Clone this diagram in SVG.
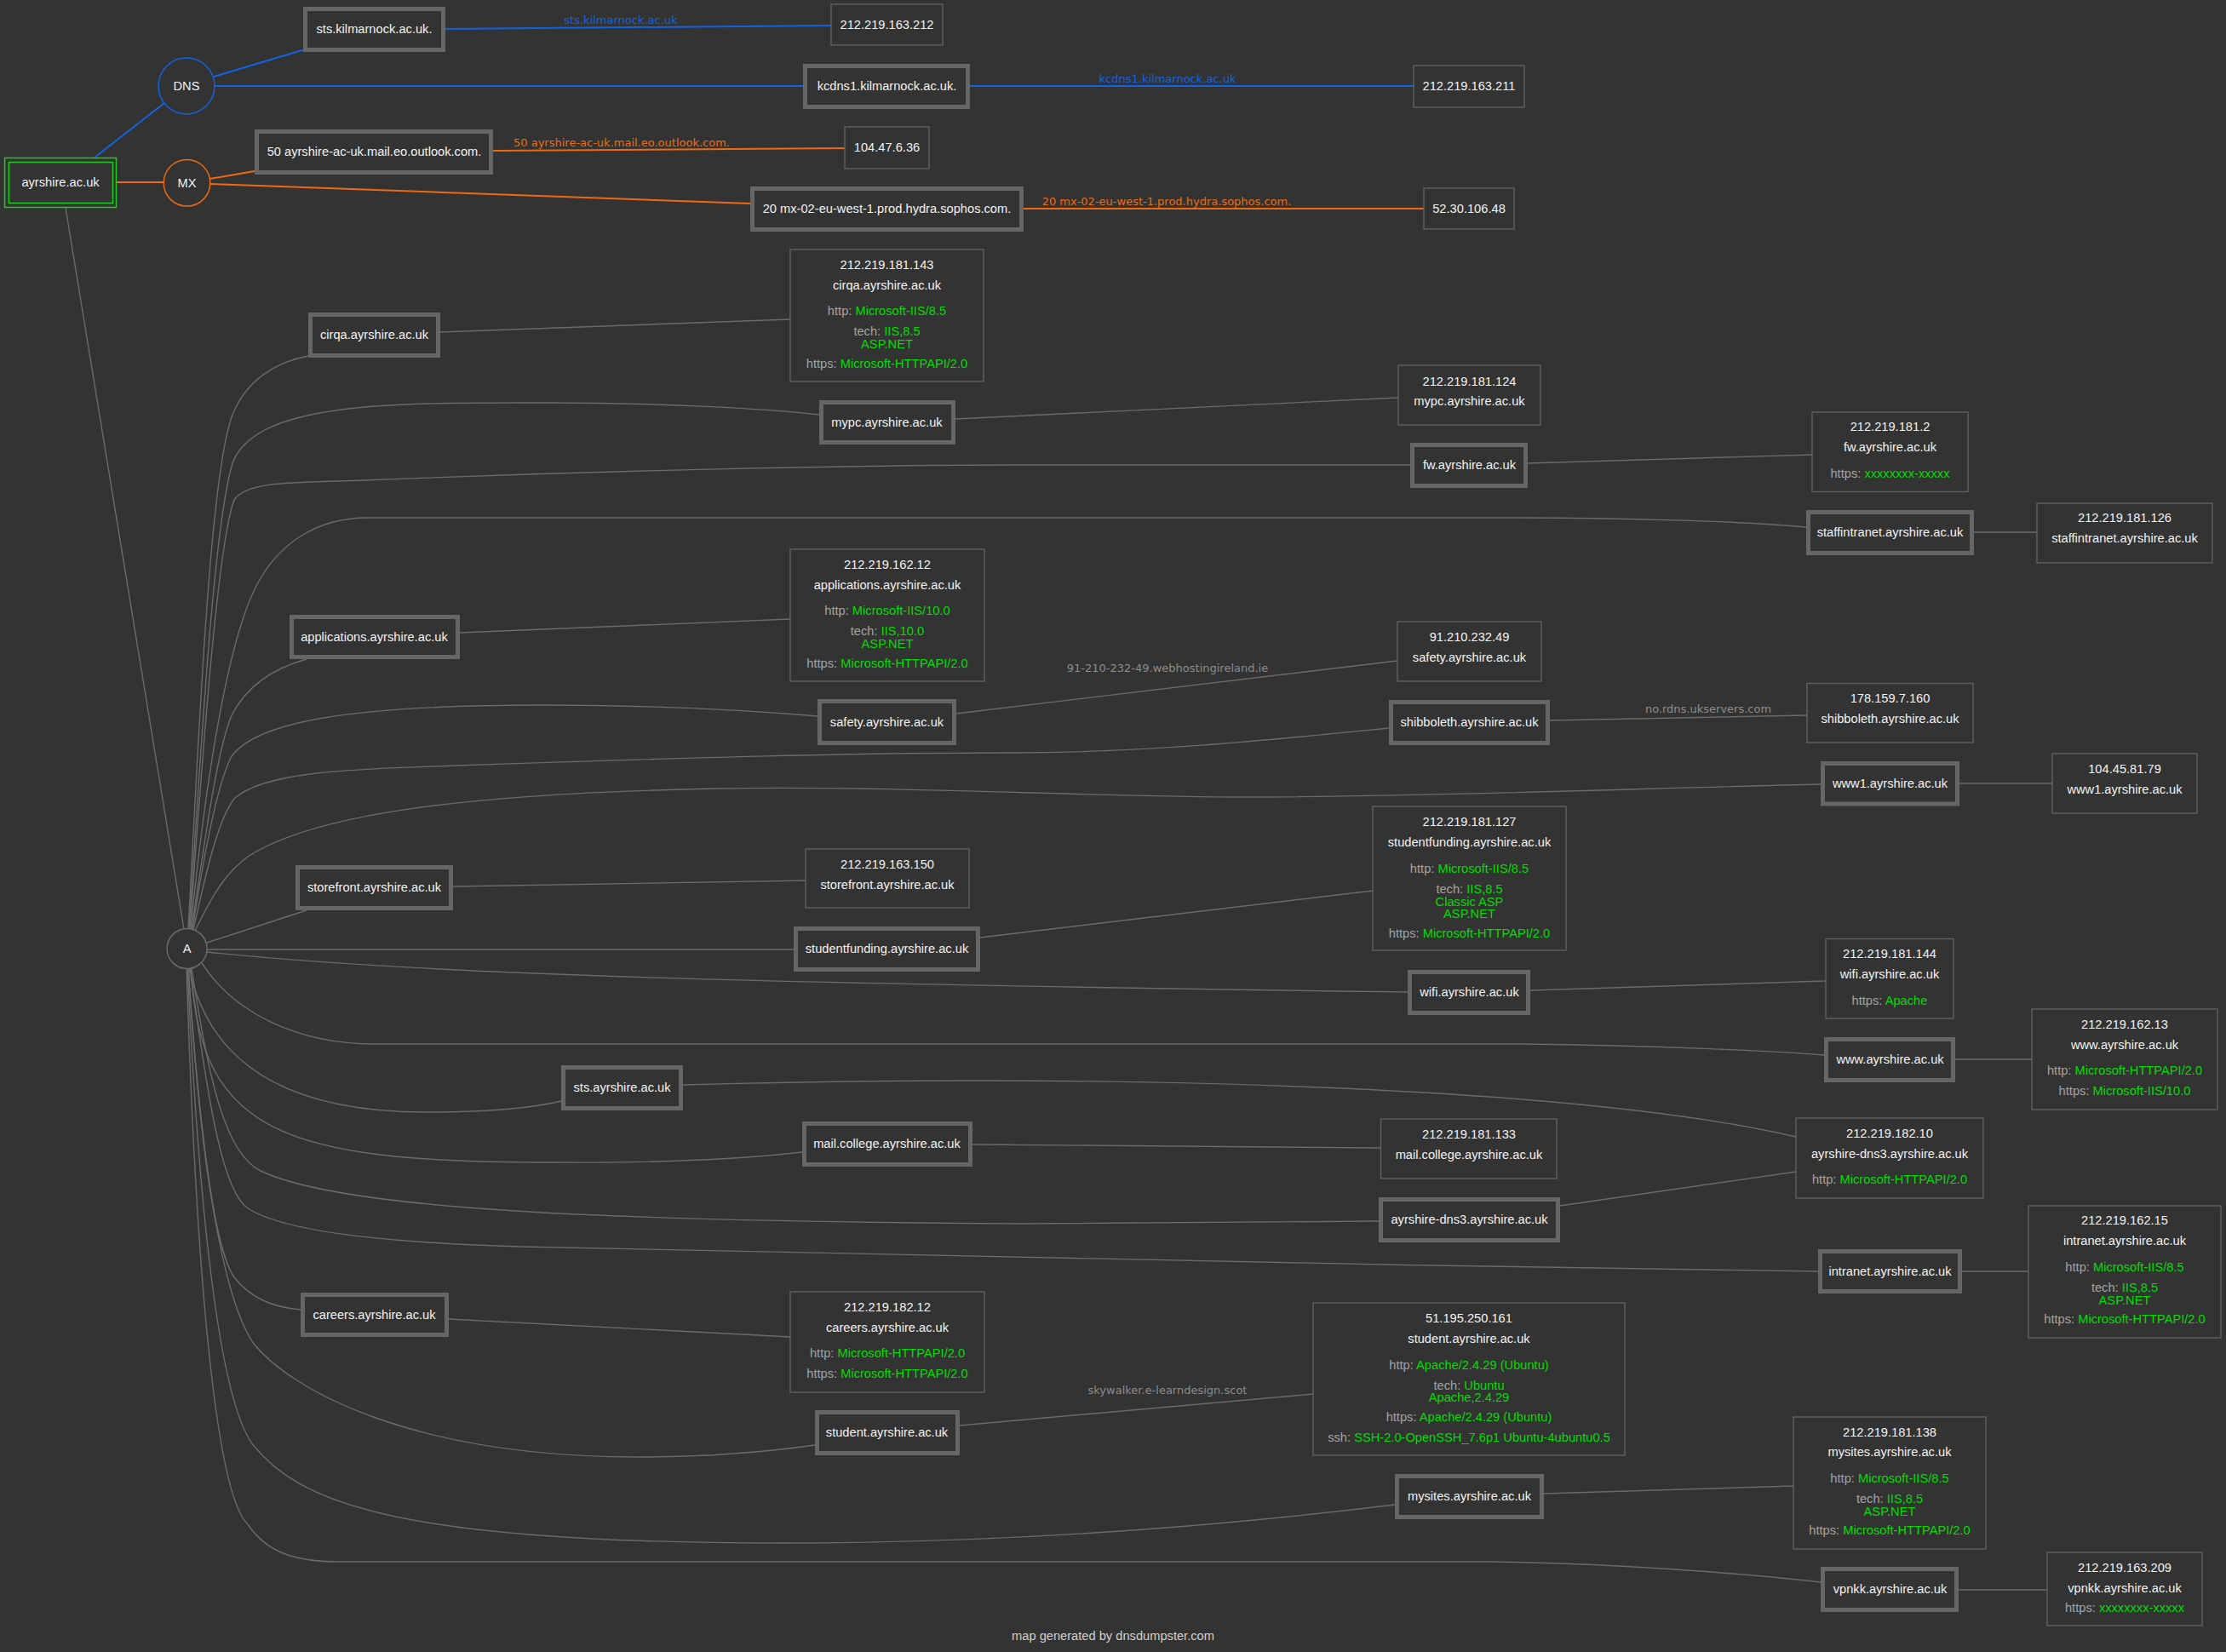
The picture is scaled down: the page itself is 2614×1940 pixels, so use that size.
<svg xmlns="http://www.w3.org/2000/svg" width="2614" height="1940" viewBox="0 0 2614 1940">
<style>
.n{fill:#333;stroke:#666;stroke-width:5}
.i{fill:#333;stroke:#5e5e5e;stroke-width:1.5}
.t{font-family:"Liberation Sans",Arial,sans-serif;font-size:14.67px;fill:#f2f2f2;text-anchor:middle}
.k{fill:#a3a3a3}
.g{fill:#00dd00}
.e{fill:none;stroke:#6b6b6b;stroke-width:1.4}
.eb{fill:none;stroke:#1462e0;stroke-width:2}
.eo{fill:none;stroke:#ee6a10;stroke-width:2}
.l{font-family:"DejaVu Sans",Verdana,sans-serif;font-size:13px;text-anchor:middle}
.lb{fill:#1462e0}
.lo{fill:#ee6a10}
.lg{fill:#8c8c8c}
</style>
<rect x="0" y="0" width="2614" height="1940" fill="#333333"/>
<g id="connectors">
<path class="eb" d="M111,185 L193,121"/>
<path class="eo" d="M137,214 L192,214"/>
<path class="e" d="M77,244 L216,1091"/>
<path class="eb" d="M251,90 L358,58"/>
<path class="eb" d="M252,101 L943,101"/>
<path class="eo" d="M246,210 L299,201"/>
<path class="eo" d="M246,216 L881,239"/>
<path class="eb" d="M523,34 L976,30"/>
<text class="l lb" x="729" y="28">sts.kilmarnock.ac.uk</text>
<path class="eb" d="M1139,101 L1660,101"/>
<text class="l lb" x="1371" y="97">kcdns1.kilmarnock.ac.uk</text>
<path class="eo" d="M579,177 L992,174"/>
<text class="l lo" x="730" y="172">50 ayrshire-ac-uk.mail.eo.outlook.com.</text>
<path class="eo" d="M1202,245 L1672,245"/>
<text class="l lo" x="1370" y="241">20 mx-02-eu-west-1.prod.hydra.sophos.com.</text>

<path class="e" d="M221,1090 C232,900 245,560 273,487 C290,445 325,425 362,418"/>
<path class="e" d="M222,1090 C235,900 250,620 273,544 C300,470 470,473 643,473 C780,473 900,480 962,487"/>
<path class="e" d="M223,1090 C237,900 255,640 275,587 C290,565 340,567 428,564 C700,553 1000,546 1200,546 L1656,546"/>
<path class="e" d="M224,1090 C240,930 265,760 300,690 C325,640 370,608 432,608 L1766,608 C1900,608 2050,612 2121,619"/>
<path class="e" d="M225,1091 C240,990 255,880 272,840 C290,805 320,785 360,774"/>
<path class="e" d="M226,1091 C240,1000 255,920 272,888 C300,850 400,828 635,828 C790,828 900,836 960,841"/>
<path class="e" d="M227,1092 C245,1010 258,960 275,938 C310,905 420,903 536,899 C800,890 1000,884 1187,884 C1350,884 1500,868 1631,855"/>
<path class="e" d="M229,1093 C250,1050 265,1025 291,1006 C370,955 550,932 842,926 C1050,922 1300,937 1477,936 C1700,935 1950,925 2138,921"/>
<path class="e" d="M243,1107 L360,1069"/>
<path class="e" d="M243,1115 L932,1115"/>
<path class="e" d="M243,1118 C500,1145 900,1155 1653,1165"/>
<path class="e" d="M237,1131 C275,1190 350,1226 440,1226 L1785,1226 C1950,1228 2080,1234 2142,1239"/>
<path class="e" d="M222,1137 C240,1220 300,1306 500,1306 C580,1306 630,1300 659,1293"/>
<path class="e" d="M224,1137 C235,1330 330,1365 650,1365 C780,1366 880,1360 942,1353"/>
<path class="e" d="M225,1137 C245,1270 265,1355 306,1375 C400,1420 700,1434 1200,1437 L1619,1434"/>
<path class="e" d="M223,1137 C245,1300 262,1400 291,1419 C340,1450 480,1460 612,1464 C900,1474 1600,1485 2135,1493"/>
<path class="e" d="M221,1137 C232,1300 248,1460 275,1500 C295,1525 320,1535 353,1538"/>
<path class="e" d="M221,1137 C235,1350 258,1520 298,1578 C340,1630 480,1711 750,1711 C830,1711 900,1705 957,1697"/>
<path class="e" d="M220,1137 C235,1450 260,1650 298,1698 C350,1760 450,1812 918,1812 C1200,1812 1450,1790 1638,1767"/>
<path class="e" d="M219,1137 C232,1550 258,1760 291,1790 C312,1822 345,1834 398,1834 L1748,1834 C1900,1836 2050,1848 2138,1858"/>

<path class="e" d="M517,390 L928,375"/>
<path class="e" d="M1122,492 L1642,467"/>
<path class="e" d="M1794,544 L2128,534"/>
<path class="e" d="M2318,625 L2392,625"/>
<path class="e" d="M540,743 L928,727"/>
<path class="e" d="M1123,838 L1641,776"/>
<text class="l lg" x="1371" y="789">91-210-232-49.webhostingireland.ie</text>
<path class="e" d="M1820,846 L2122,840"/>
<text class="l lg" x="2006" y="837">no.rdns.ukservers.com</text>
<path class="e" d="M2301,920 L2410,920"/>
<path class="e" d="M532,1041 L946,1034"/>
<path class="e" d="M1151,1101 L1612,1046"/>
<path class="e" d="M1797,1163 L2144,1152"/>
<path class="e" d="M2296,1244 L2386,1244"/>
<path class="e" d="M802,1274 C1300,1260 1850,1275 2109,1335"/>
<path class="e" d="M1142,1344 L1621,1348"/>
<path class="e" d="M1832,1416 L2109,1376"/>
<path class="e" d="M2304,1493 L2382,1493"/>
<path class="e" d="M527,1549 L928,1570"/>
<path class="e" d="M1127,1674 L1542,1637"/>
<text class="l lg" x="1371" y="1637">skywalker.e-learndesign.scot</text>
<path class="e" d="M1813,1754 L2106,1745"/>
<path class="e" d="M2300,1867 L2404,1867"/>
</g>

<g id="n-ayrshire">
<rect x="5.5" y="185.5" width="131" height="58" fill="#333" stroke="#1ccc1c" stroke-width="1.5"/>
<rect x="10.5" y="190.5" width="122" height="48" fill="none" stroke="#1ccc1c" stroke-width="1.5"/>
<text class="t" x="71" y="219">ayrshire.ac.uk</text>
</g>
<g id="n-dns">
<circle cx="219" cy="101" r="33" fill="#333" stroke="#1462e0" stroke-width="1.5"/>
<text class="t" x="219" y="106">DNS</text>
</g>
<g id="n-mx">
<circle cx="219.5" cy="214.8" r="27.3" fill="#333" stroke="#ee6a10" stroke-width="1.5"/>
<text class="t" x="219.5" y="220">MX</text>
</g>
<g id="n-a">
<circle cx="219.6" cy="1114" r="23.5" fill="#333" stroke="#6b6b6b" stroke-width="1.5"/>
<text class="t" x="219.6" y="1119">A</text>
</g>

<g id="n-stskil"><rect class="n" x="358.5" y="10.5" width="162" height="48"/><text class="t" x="439.5" y="39">sts.kilmarnock.ac.uk.</text></g>
<g id="n-kcdns1"><rect class="n" x="945.5" y="77.5" width="191" height="48"/><text class="t" x="1041.5" y="106">kcdns1.kilmarnock.ac.uk.</text></g>
<g id="n-outlook"><rect class="n" x="301.5" y="154.5" width="275" height="48"/><text class="t" x="439.5" y="183">50 ayrshire-ac-uk.mail.eo.outlook.com.</text></g>
<g id="n-sophos"><rect class="n" x="883.5" y="221.5" width="316" height="48"/><text class="t" x="1041.5" y="250">20 mx-02-eu-west-1.prod.hydra.sophos.com.</text></g>
<g id="ip-163-212"><rect class="i" x="976" y="5" width="131" height="48"/><text class="t" x="1041.5" y="34">212.219.163.212</text></g>
<g id="ip-163-211"><rect class="i" x="1660" y="77" width="130" height="49"/><text class="t" x="1725" y="106">212.219.163.211</text></g>
<g id="ip-104-47"><rect class="i" x="992" y="149" width="99" height="49"/><text class="t" x="1041.5" y="178">104.47.6.36</text></g>
<g id="ip-52-30"><rect class="i" x="1672" y="221" width="106" height="48"/><text class="t" x="1725" y="250">52.30.106.48</text></g>

<g id="n-cirqa"><rect class="n" x="364.5" y="369.5" width="150" height="48"/><text class="t" x="439.5" y="398">cirqa.ayrshire.ac.uk</text></g>
<g id="i-cirqa"><rect class="i" x="928" y="293" width="227" height="155"/>
<text class="t" x="1041.5" y="316">212.219.181.143</text>
<text class="t" x="1041.5" y="340">cirqa.ayrshire.ac.uk</text>
<text class="t" x="1041.5" y="370"><tspan class="k">http: </tspan><tspan class="g">Microsoft-IIS/8.5</tspan></text>
<text class="t" x="1041.5" y="394"><tspan class="k">tech: </tspan><tspan class="g">IIS,8.5</tspan></text>
<text class="t g" x="1041.5" y="409">ASP.NET</text>
<text class="t" x="1041.5" y="432"><tspan class="k">https: </tspan><tspan class="g">Microsoft-HTTPAPI/2.0</tspan></text>
</g>

<g id="n-mypc"><rect class="n" x="964.5" y="472.5" width="155" height="47"/><text class="t" x="1041.5" y="501">mypc.ayrshire.ac.uk</text></g>
<g id="i-mypc"><rect class="i" x="1642" y="429" width="167" height="70"/>
<text class="t" x="1725.5" y="452.5">212.219.181.124</text>
<text class="t" x="1725.5" y="476">mypc.ayrshire.ac.uk</text></g>

<g id="n-fw"><rect class="n" x="1658.5" y="522.5" width="133" height="48"/><text class="t" x="1725.5" y="551">fw.ayrshire.ac.uk</text></g>
<g id="i-fw"><rect class="i" x="2128" y="484" width="183" height="93.5"/>
<text class="t" x="2219.5" y="506">212.219.181.2</text>
<text class="t" x="2219.5" y="530">fw.ayrshire.ac.uk</text>
<text class="t" x="2219.5" y="561"><tspan class="k">https: </tspan><tspan class="g">xxxxxxxx-xxxxx</tspan></text></g>

<g id="n-staffintranet"><rect class="n" x="2123.5" y="601.5" width="192" height="48"/><text class="t" x="2219.5" y="630">staffintranet.ayrshire.ac.uk</text></g>
<g id="i-staffintranet"><rect class="i" x="2392" y="591" width="206" height="70"/>
<text class="t" x="2495" y="613">212.219.181.126</text>
<text class="t" x="2495" y="637">staffintranet.ayrshire.ac.uk</text></g>

<g id="n-applications"><rect class="n" x="342.5" y="724.5" width="195" height="47"/><text class="t" x="439.5" y="753">applications.ayrshire.ac.uk</text></g>
<g id="i-applications"><rect class="i" x="928" y="645" width="228" height="155"/>
<text class="t" x="1042" y="668">212.219.162.12</text>
<text class="t" x="1042" y="692">applications.ayrshire.ac.uk</text>
<text class="t" x="1042" y="722"><tspan class="k">http: </tspan><tspan class="g">Microsoft-IIS/10.0</tspan></text>
<text class="t" x="1042" y="746"><tspan class="k">tech: </tspan><tspan class="g">IIS,10.0</tspan></text>
<text class="t g" x="1042" y="761">ASP.NET</text>
<text class="t" x="1042" y="784"><tspan class="k">https: </tspan><tspan class="g">Microsoft-HTTPAPI/2.0</tspan></text></g>

<g id="n-safety"><rect class="n" x="962.5" y="823.5" width="158" height="49"/><text class="t" x="1041.5" y="853">safety.ayrshire.ac.uk</text></g>
<g id="i-safety"><rect class="i" x="1641" y="730" width="169" height="70"/>
<text class="t" x="1725.5" y="753">91.210.232.49</text>
<text class="t" x="1725.5" y="777">safety.ayrshire.ac.uk</text></g>

<g id="n-shibboleth"><rect class="n" x="1633.5" y="824.5" width="184" height="48"/><text class="t" x="1725.5" y="853">shibboleth.ayrshire.ac.uk</text></g>
<g id="i-shibboleth"><rect class="i" x="2122" y="802.5" width="195" height="69.5"/>
<text class="t" x="2219.5" y="825">178.159.7.160</text>
<text class="t" x="2219.5" y="849">shibboleth.ayrshire.ac.uk</text></g>

<g id="n-www1"><rect class="n" x="2140.5" y="896.5" width="158" height="47.5"/><text class="t" x="2219.5" y="925">www1.ayrshire.ac.uk</text></g>
<g id="i-www1"><rect class="i" x="2410" y="885" width="170" height="70"/>
<text class="t" x="2495" y="908">104.45.81.79</text>
<text class="t" x="2495" y="932">www1.ayrshire.ac.uk</text></g>

<g id="n-storefront"><rect class="n" x="349.5" y="1018.5" width="180" height="48"/><text class="t" x="439.5" y="1047">storefront.ayrshire.ac.uk</text></g>
<g id="i-storefront"><rect class="i" x="946" y="997" width="192" height="69"/>
<text class="t" x="1042" y="1020">212.219.163.150</text>
<text class="t" x="1042" y="1044">storefront.ayrshire.ac.uk</text></g>

<g id="n-studentfunding"><rect class="n" x="934.5" y="1090.5" width="214" height="48"/><text class="t" x="1041.5" y="1119">studentfunding.ayrshire.ac.uk</text></g>
<g id="i-studentfunding"><rect class="i" x="1612" y="947" width="227" height="169"/>
<text class="t" x="1725.5" y="970">212.219.181.127</text>
<text class="t" x="1725.5" y="994">studentfunding.ayrshire.ac.uk</text>
<text class="t" x="1725.5" y="1025"><tspan class="k">http: </tspan><tspan class="g">Microsoft-IIS/8.5</tspan></text>
<text class="t" x="1725.5" y="1049"><tspan class="k">tech: </tspan><tspan class="g">IIS,8.5</tspan></text>
<text class="t g" x="1725.5" y="1063.5">Classic ASP</text>
<text class="t g" x="1725.5" y="1078">ASP.NET</text>
<text class="t" x="1725.5" y="1101"><tspan class="k">https: </tspan><tspan class="g">Microsoft-HTTPAPI/2.0</tspan></text></g>

<g id="n-wifi"><rect class="n" x="1655.5" y="1141.5" width="139" height="48"/><text class="t" x="1725.5" y="1170">wifi.ayrshire.ac.uk</text></g>
<g id="i-wifi"><rect class="i" x="2144" y="1102.5" width="150" height="93.5"/>
<text class="t" x="2219" y="1125">212.219.181.144</text>
<text class="t" x="2219" y="1149">wifi.ayrshire.ac.uk</text>
<text class="t" x="2219" y="1180"><tspan class="k">https: </tspan><tspan class="g">Apache</tspan></text></g>

<g id="n-www"><rect class="n" x="2144.5" y="1220.5" width="149" height="48"/><text class="t" x="2219.5" y="1249">www.ayrshire.ac.uk</text></g>
<g id="i-www"><rect class="i" x="2386" y="1185" width="218" height="118"/>
<text class="t" x="2495" y="1208">212.219.162.13</text>
<text class="t" x="2495" y="1232">www.ayrshire.ac.uk</text>
<text class="t" x="2495" y="1262"><tspan class="k">http: </tspan><tspan class="g">Microsoft-HTTPAPI/2.0</tspan></text>
<text class="t" x="2495" y="1286"><tspan class="k">https: </tspan><tspan class="g">Microsoft-IIS/10.0</tspan></text></g>

<g id="n-sts"><rect class="n" x="661.5" y="1253.5" width="138" height="48"/><text class="t" x="730.5" y="1282">sts.ayrshire.ac.uk</text></g>

<g id="n-mailcollege"><rect class="n" x="944.5" y="1319.5" width="195" height="48"/><text class="t" x="1041.5" y="1348">mail.college.ayrshire.ac.uk</text></g>
<g id="i-mailcollege"><rect class="i" x="1621.5" y="1314" width="206.5" height="70"/>
<text class="t" x="1725" y="1337">212.219.181.133</text>
<text class="t" x="1725" y="1361">mail.college.ayrshire.ac.uk</text></g>

<g id="i-dns3"><rect class="i" x="2109" y="1313" width="220" height="94"/>
<text class="t" x="2219" y="1336">212.219.182.10</text>
<text class="t" x="2219" y="1360">ayrshire-dns3.ayrshire.ac.uk</text>
<text class="t" x="2219" y="1390"><tspan class="k">http: </tspan><tspan class="g">Microsoft-HTTPAPI/2.0</tspan></text></g>
<g id="n-dns3"><rect class="n" x="1621.5" y="1408.5" width="208" height="48"/><text class="t" x="1725.5" y="1437">ayrshire-dns3.ayrshire.ac.uk</text></g>

<g id="n-intranet"><rect class="n" x="2137.5" y="1469.5" width="164" height="47"/><text class="t" x="2219.5" y="1498">intranet.ayrshire.ac.uk</text></g>
<g id="i-intranet"><rect class="i" x="2382" y="1416" width="226" height="155"/>
<text class="t" x="2495" y="1438">212.219.162.15</text>
<text class="t" x="2495" y="1462">intranet.ayrshire.ac.uk</text>
<text class="t" x="2495" y="1492.5"><tspan class="k">http: </tspan><tspan class="g">Microsoft-IIS/8.5</tspan></text>
<text class="t" x="2495" y="1517"><tspan class="k">tech: </tspan><tspan class="g">IIS,8.5</tspan></text>
<text class="t g" x="2495" y="1532">ASP.NET</text>
<text class="t" x="2495" y="1554"><tspan class="k">https: </tspan><tspan class="g">Microsoft-HTTPAPI/2.0</tspan></text></g>

<g id="n-careers"><rect class="n" x="355.5" y="1520.5" width="169" height="47"/><text class="t" x="439.5" y="1549">careers.ayrshire.ac.uk</text></g>
<g id="i-careers"><rect class="i" x="928" y="1517" width="228" height="118"/>
<text class="t" x="1042" y="1540">212.219.182.12</text>
<text class="t" x="1042" y="1564">careers.ayrshire.ac.uk</text>
<text class="t" x="1042" y="1594"><tspan class="k">http: </tspan><tspan class="g">Microsoft-HTTPAPI/2.0</tspan></text>
<text class="t" x="1042" y="1618"><tspan class="k">https: </tspan><tspan class="g">Microsoft-HTTPAPI/2.0</tspan></text></g>

<g id="n-student"><rect class="n" x="959.5" y="1658.5" width="165" height="48"/><text class="t" x="1041.5" y="1687">student.ayrshire.ac.uk</text></g>
<g id="i-student"><rect class="i" x="1542" y="1530" width="366" height="179"/>
<text class="t" x="1725" y="1553">51.195.250.161</text>
<text class="t" x="1725" y="1577">student.ayrshire.ac.uk</text>
<text class="t" x="1725" y="1608"><tspan class="k">http: </tspan><tspan class="g">Apache/2.4.29 (Ubuntu)</tspan></text>
<text class="t" x="1725" y="1632"><tspan class="k">tech: </tspan><tspan class="g">Ubuntu</tspan></text>
<text class="t g" x="1725" y="1646">Apache,2.4.29</text>
<text class="t" x="1725" y="1669"><tspan class="k">https: </tspan><tspan class="g">Apache/2.4.29 (Ubuntu)</tspan></text>
<text class="t" x="1725" y="1693"><tspan class="k">ssh: </tspan><tspan class="g">SSH-2.0-OpenSSH_7.6p1 Ubuntu-4ubuntu0.5</tspan></text></g>

<g id="n-mysites"><rect class="n" x="1640.5" y="1733.5" width="170" height="48"/><text class="t" x="1725.5" y="1762">mysites.ayrshire.ac.uk</text></g>
<g id="i-mysites"><rect class="i" x="2106" y="1664" width="226" height="155"/>
<text class="t" x="2219" y="1687">212.219.181.138</text>
<text class="t" x="2219" y="1710">mysites.ayrshire.ac.uk</text>
<text class="t" x="2219" y="1741"><tspan class="k">http: </tspan><tspan class="g">Microsoft-IIS/8.5</tspan></text>
<text class="t" x="2219" y="1765"><tspan class="k">tech: </tspan><tspan class="g">IIS,8.5</tspan></text>
<text class="t g" x="2219" y="1780">ASP.NET</text>
<text class="t" x="2219" y="1802"><tspan class="k">https: </tspan><tspan class="g">Microsoft-HTTPAPI/2.0</tspan></text></g>

<g id="n-vpnkk"><rect class="n" x="2140.5" y="1842.5" width="157" height="48"/><text class="t" x="2219.5" y="1871">vpnkk.ayrshire.ac.uk</text></g>
<g id="i-vpnkk"><rect class="i" x="2404" y="1823" width="182" height="86"/>
<text class="t" x="2495" y="1846">212.219.163.209</text>
<text class="t" x="2495" y="1870">vpnkk.ayrshire.ac.uk</text>
<text class="t" x="2495" y="1893"><tspan class="k">https: </tspan><tspan class="g">xxxxxxxx-xxxxx</tspan></text></g>

<text class="t" x="1307" y="1926" style="fill:#d0d0d0">map generated by dnsdumpster.com</text>
</svg>
